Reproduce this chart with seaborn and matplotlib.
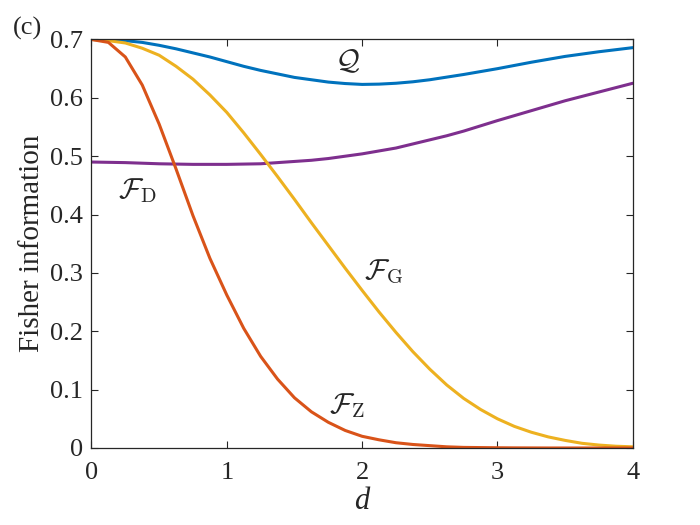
import seaborn as sns
import matplotlib.pyplot as plt
import pandas as pd
import numpy as np

# Values, d in steps of 0.125
d = [0, 0.125, 0.25, 0.375, 0.5, 0.625, 0.75, 0.875, 1.0, 1.125, 1.25,
     1.375, 1.5, 1.625, 1.75, 1.875, 2.0, 2.125, 2.25, 2.375, 2.5, 2.625,
     2.75, 2.875, 3.0, 3.125, 3.25, 3.375, 3.5, 3.625, 3.75, 3.875, 4.0]

q_vals = [0.700, 0.6995, 0.698, 0.695, 0.690, 0.684, 0.677, 0.670, 0.662,
          0.654, 0.647, 0.641, 0.635, 0.631, 0.627, 0.6245, 0.623, 0.6235,
          0.625, 0.6275, 0.631, 0.6355, 0.640, 0.645, 0.650, 0.6555, 0.661,
          0.666, 0.671, 0.675, 0.679, 0.6825, 0.686]

fd_vals = [0.490, 0.4895, 0.489, 0.488, 0.487, 0.4865, 0.486, 0.486, 0.486,
           0.4865, 0.487, 0.489, 0.491, 0.493, 0.496, 0.500, 0.504, 0.509,
           0.514, 0.521, 0.528, 0.535, 0.543, 0.552, 0.561, 0.5695, 0.578,
           0.5865, 0.595, 0.6025, 0.610, 0.6175, 0.625]

fg_vals = [0.700, 0.698, 0.694, 0.685, 0.673, 0.654, 0.632, 0.605, 0.575,
           0.540, 0.503, 0.465, 0.426, 0.386, 0.347, 0.308, 0.270, 0.233,
           0.198, 0.165, 0.135, 0.108, 0.085, 0.066, 0.050, 0.037, 0.027,
           0.019, 0.013, 0.008, 0.005, 0.003, 0.002]

fz_vals = [0.700, 0.695, 0.670, 0.622, 0.555, 0.478, 0.398, 0.325, 0.262,
           0.205, 0.157, 0.118, 0.086, 0.062, 0.044, 0.030, 0.020, 0.014,
           0.009, 0.006, 0.004, 0.002, 0.001, 0.0007, 0.0004, 0.0002, 0.0001,
           0.0, 0.0, 0.0, 0.0, 0.0, 0.0]

series = [('Q', q_vals, '#0072BD'),
          ('FD', fd_vals, '#7E2F8E'),
          ('FG', fg_vals, '#EDB120'),
          ('FZ', fz_vals, '#D95319')]

df = pd.concat([pd.DataFrame({'d': d, 'value': v, 'curve': name})
                for name, v, _ in series], ignore_index=True)
palette = {name: c for name, _, c in series}

sns.set_style("ticks")
plt.rcParams['font.family'] = ['Liberation Serif', 'DejaVu Serif']
plt.rcParams['mathtext.fontset'] = 'cm'

fig = plt.figure(figsize=(7, 5.25), dpi=100)
ax = fig.add_axes([0.1307, 0.1467, 0.7733, 0.7781])

sns.lineplot(data=df, x='d', y='value', hue='curve', palette=palette,
             lw=2.2, legend=False, ax=ax)

ax.set_xlim(0, 4)
ax.set_ylim(0, 0.7)
ax.set_xticks([0, 1, 2, 3, 4])
ax.set_yticks(np.arange(0, 0.71, 0.1))
ax.set_yticklabels(['0', '0.1', '0.2', '0.3', '0.4', '0.5', '0.6', '0.7'])
ax.tick_params(direction='in', top=True, right=True, length=5, width=0.8,
               labelsize=19, color='#262626', labelcolor='#262626')
ax.tick_params(axis='x', pad=10)
ax.tick_params(axis='y', pad=6)
for lbl in ax.get_xticklabels() + ax.get_yticklabels():
    lbl.set_fontfamily('Liberation Serif')
for s in ax.spines.values():
    s.set_linewidth(0.9)
    s.set_color('#262626')

ax.set_xlabel('d', fontsize=22, style='italic', labelpad=2, color='#262626')
ax.set_ylabel('Fisher information', fontsize=21, labelpad=4, color='#262626')

ax.text(1.89, 0.662, r'$\mathcal{Q}$', fontsize=21, ha='center', va='center')
ax.text(0.335, 0.442, r'$\mathcal{F}_{\mathrm{D}}$', fontsize=21, ha='center', va='center')
ax.text(2.16, 0.302, r'$\mathcal{F}_{\mathrm{G}}$', fontsize=21, ha='center', va='center')
ax.text(1.89, 0.072, r'$\mathcal{F}_{\mathrm{Z}}$', fontsize=21, ha='center', va='center')

fig.text(0.039, 0.946, '(c)', fontsize=19, ha='center', va='center')

fig.savefig('out.png', dpi=100)
plt.close(fig)
